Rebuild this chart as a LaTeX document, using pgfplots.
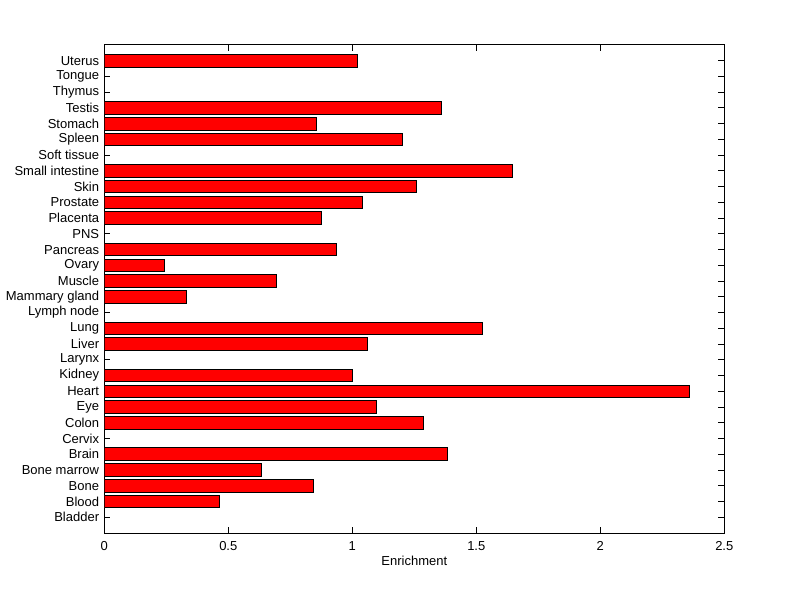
\documentclass[border=0pt]{standalone}
\usepackage{fontspec}
\setmainfont{Liberation Sans}
\usepackage{pgfplots}
\pgfplotsset{compat=1.18}
\begin{document}
\begin{tikzpicture}
\fontsize{13bp}{15bp}\selectfont
\path[use as bounding box] (0,0) rectangle (800bp,599bp);
\begin{axis}[
  at={(104.3bp,66bp)}, anchor=south west,
  width=620bp, height=488bp, scale only axis,
  xmin=0, xmax=2.5, ymin=0, ymax=31,
  xbar, bar width=0.8,
  axis line style={line width=1bp, black},
  tick style={line width=1bp, black},
  tick pos=both, tick align=inside, major tick length=6bp,
  xtick={0,0.5,1,1.5,2,2.5},
  xticklabels={0,0.5,1,1.5,2,2.5},
  ytick={1,...,30},
  yticklabels={Bladder,Blood,Bone,Bone marrow,Brain,Cervix,Colon,Eye,Heart,Kidney,Larynx,Liver,Lung,Lymph node,Mammary gland,Muscle,Ovary,Pancreas,PNS,Placenta,Prostate,Skin,Small intestine,Soft tissue,Spleen,Stomach,Testis,Thymus,Tongue,Uterus},
  /pgf/number format/assume math mode=true,
  yticklabel style={inner sep=0pt, xshift=-5bp, font=\fontsize{13bp}{15bp}\selectfont},
  xticklabel style={inner sep=0pt, yshift=-8bp, font=\fontsize{13bp}{15bp}\selectfont},
  xlabel={Enrichment},
  xlabel style={at={(0.5,0)}, anchor=north, yshift=-23bp, inner sep=0pt, font=\fontsize{13bp}{15bp}\selectfont},
]
\addplot[fill=red, draw=black, line width=1bp] coordinates {
  (0.464,2) (0.843,3) (0.633,4) (1.385,5) (1.286,7) (1.097,8) (2.360,9)
  (1.000,10) (1.060,12) (1.524,13) (0.331,15) (0.694,16) (0.242,17)
  (0.935,18) (0.875,20) (1.040,21) (1.260,22) (1.645,23) (1.202,25)
  (0.855,26) (1.360,27) (1.020,30)
};
\end{axis}
\end{tikzpicture}
\end{document}
